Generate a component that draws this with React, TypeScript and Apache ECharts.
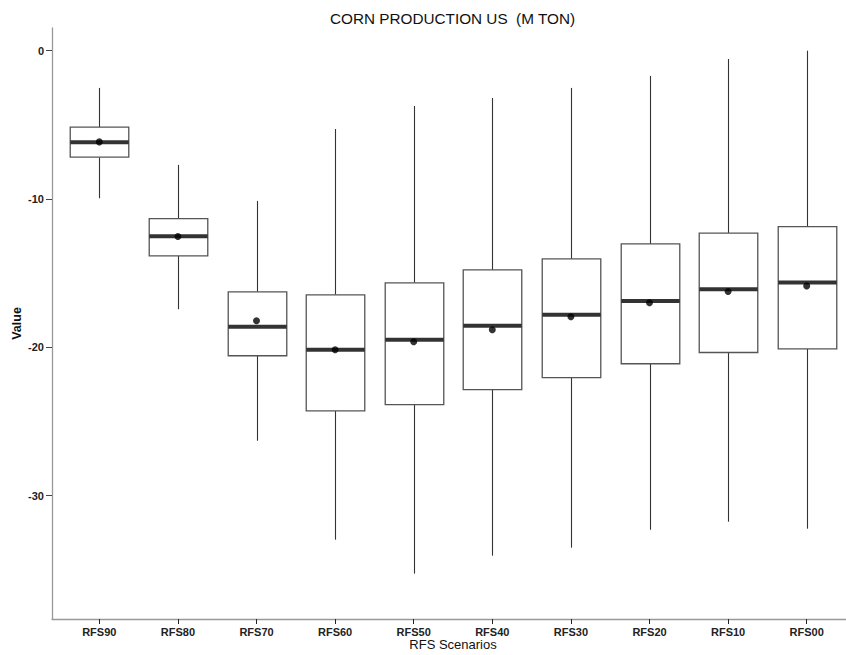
import React, { useEffect, useRef } from "react";
import * as echarts from "echarts";

const categories = ["RFS90", "RFS80", "RFS70", "RFS60", "RFS50", "RFS40", "RFS30", "RFS20", "RFS10", "RFS00"];
const whiskerLow = [-9.95, -17.43, -26.3, -32.97, -35.26, -34.05, -33.51, -32.3, -31.76, -32.23];
const q1 = [-7.18, -13.83, -20.57, -24.28, -23.87, -22.86, -22.05, -21.11, -20.35, -20.1];
const median = [-6.17, -12.51, -18.62, -20.17, -19.49, -18.55, -17.81, -16.87, -16.08, -15.63];
const q3 = [-5.16, -11.32, -16.26, -16.46, -15.65, -14.78, -14.04, -13.03, -12.3, -11.86];
const whiskerHigh = [-2.51, -7.7, -10.13, -5.28, -3.73, -3.19, -2.51, -1.7, -0.56, 0];
const means = [-6.15, -12.53, -18.21, -20.17, -19.63, -18.82, -17.94, -17.0, -16.24, -15.86];
const yTicks = [0, -10, -20, -30];

const FONT = "'Liberation Sans', Arial, sans-serif";

export default function App() {
  const ref = useRef<HTMLDivElement>(null);
  useEffect(() => {
    if (!ref.current) return;
    const chart = echarts.init(ref.current, null, { renderer: "svg" });
    const boxData = categories.map((_, i) => [i, whiskerLow[i], q1[i], median[i], q3[i], whiskerHigh[i]]);
    const meanData = categories.map((_, i) => [i, means[i]]);
    chart.setOption({
      animation: false,
      backgroundColor: "#ffffff",
      title: {
        text: "CORN PRODUCTION US  (M TON)",
        left: 325,
        top: 6,
        textStyle: { fontFamily: FONT, fontSize: 15.3, fontWeight: "normal", color: "#111" },
      },
      grid: [
        { left: 60, right: 0, top: 28, bottom: 36, outerBoundsMode: "none", containLabel: false },
        { left: 52, right: 0, top: 28, bottom: 36, outerBoundsMode: "none", containLabel: false },
      ],
      xAxis: [
        {
          type: "category",
          gridIndex: 0,
          data: categories,
          boundaryGap: true,
          position: "bottom",
          name: "RFS Scenarios",
          nameLocation: "middle",
          nameGap: 19,
          nameMoveOverlap: false,
          nameTextStyle: { fontFamily: FONT, fontSize: 13, color: "#111" },
          axisLine: { show: false, onZero: false },
          axisTick: { show: true, alignWithLabel: true, length: 5, lineStyle: { color: "#222", width: 1 } },
          axisLabel: { fontFamily: FONT, fontSize: 11, color: "#222", margin: 7, fontWeight: "bold" },
          splitLine: { show: false },
        },
        {
          type: "value",
          gridIndex: 1,
          min: 0,
          max: 1,
          position: "bottom",
          axisLine: { show: true, onZero: false, lineStyle: { color: "#999", width: 1.3 } },
          axisTick: { show: false },
          axisLabel: { show: false },
          splitLine: { show: false },
        },
      ],
      yAxis: [
        {
          type: "value",
          gridIndex: 0,
          min: -38.32,
          max: 1.53,
          offset: 8,
          name: "Value",
          nameLocation: "middle",
          nameGap: 29,
          nameMoveOverlap: false,
          nameRotate: 90,
          nameTextStyle: { fontFamily: FONT, fontSize: 12.5, color: "#111", fontWeight: "bold" },
          axisLine: { show: true, onZero: false, lineStyle: { color: "#999", width: 1.3 } },
          axisTick: { show: true, length: 6, customValues: yTicks, lineStyle: { color: "#444", width: 1 } },
          axisLabel: {
            customValues: yTicks,
            fontFamily: FONT,
            fontSize: 11,
            color: "#222",
            margin: 8,
            fontWeight: "bold",
          },
          splitLine: { show: false },
        },
        {
          type: "value",
          gridIndex: 1,
          show: false,
          min: 0,
          max: 1,
        },
      ],
      series: [
        {
          type: "custom",
          xAxisIndex: 0,
          yAxisIndex: 0,
          data: boxData,
          encode: { x: 0, y: [1, 2, 3, 4, 5] },
          renderItem: (params: any, api: any) => {
            const idx = api.value(0);
            const lo = api.coord([idx, api.value(1)]);
            const b1 = api.coord([idx, api.value(2)]);
            const md = api.coord([idx, api.value(3)]);
            const b3 = api.coord([idx, api.value(4)]);
            const hi = api.coord([idx, api.value(5)]);
            const band = api.size([1, 0])[0];
            const w = band * 0.745;
            const x = Math.round(lo[0]) + 0.5;
            return {
              type: "group",
              children: [
                { type: "line", shape: { x1: x, y1: hi[1], x2: x, y2: b3[1] }, style: { stroke: "#333", lineWidth: 1.1 } },
                { type: "line", shape: { x1: x, y1: b1[1], x2: x, y2: lo[1] }, style: { stroke: "#333", lineWidth: 1.1 } },
                {
                  type: "rect",
                  shape: { x: x - w / 2, y: b3[1], width: w, height: b1[1] - b3[1] },
                  style: { fill: "#ffffff", stroke: "#555", lineWidth: 1.3 },
                },
                {
                  type: "line",
                  shape: { x1: x - w / 2, y1: md[1], x2: x + w / 2, y2: md[1] },
                  style: { stroke: "#333", lineWidth: 4 },
                },
              ],
            };
          },
          z: 2,
        },
        {
          type: "scatter",
          xAxisIndex: 0,
          yAxisIndex: 0,
          data: meanData,
          symbol: "circle",
          symbolSize: 7,
          itemStyle: { color: "#000" },
          z: 3,
        },
      ],
    });
    return () => chart.dispose();
  }, []);
  return <div ref={ref} style={{ width: 846, height: 655, position: "absolute", left: 0, top: 0 }} />;
}
